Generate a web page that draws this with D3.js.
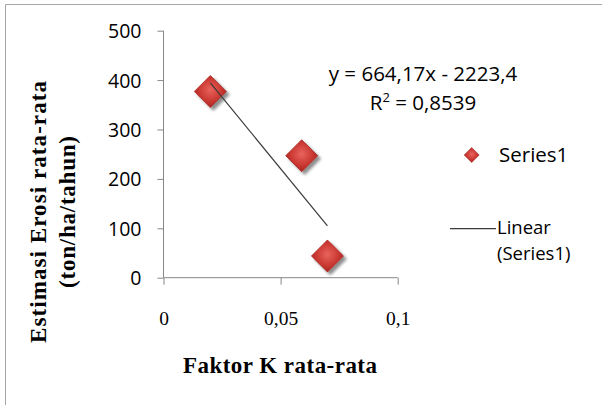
<!DOCTYPE html>
<html>
<head>
<meta charset="utf-8">
<script src="https://cdn.jsdelivr.net/npm/d3@7"></script>
<style>
  body { margin: 0; background: #fff; }
  .axisTitle { font-family: "Liberation Serif", serif; font-weight: bold; font-size: 23px; fill: #000; }
  .note { font-family: "Open Sans", sans-serif; font-size: 20.5px; fill: #000; }
  .legText { font-family: "Open Sans", sans-serif; font-size: 18.5px; fill: #000; }
</style>
</head>
<body>
<div id="scatter"></div>
<script>
// Chart data
var faktorK = [0.02, 0.059, 0.07];
var erosi = [377, 247, 44];
var xTicks = [0, 0.05, 0.1];
var yTicks = [0, 100, 200, 300, 400, 500];
var seriesName = "Series1";
var trendName = ["Linear", "(Series1)"];
var eqText = "y = 664,17x - 2223,4";
var r2Text = "0,8539";

var width = 602;
var height = 405;

var svg = d3.select("#scatter")
  .append("svg")
  .attr("width", width)
  .attr("height", height);

// Frame (top and left edges visible)
svg.append("path")
  .attr("d", "M5.5," + height + "V4.5H" + width)
  .attr("fill", "none")
  .attr("stroke", "#a6a6a6");

// Marker gradient + shadow
var defs = svg.append("defs");
var grad = defs.append("radialGradient")
  .attr("id", "redGrad")
  .attr("cx", "50%").attr("cy", "45%").attr("r", "60%");
grad.append("stop").attr("offset", "0%").attr("stop-color", "#e8645d");
grad.append("stop").attr("offset", "55%").attr("stop-color", "#cc3a34");
grad.append("stop").attr("offset", "100%").attr("stop-color", "#a3211c");

var shadow = defs.append("filter").attr("id", "shadow")
  .attr("x", "-30%").attr("y", "-30%").attr("width", "170%").attr("height", "170%");
shadow.append("feGaussianBlur").attr("in", "SourceAlpha").attr("stdDeviation", 1.6);
shadow.append("feOffset").attr("dx", 3).attr("dy", 3).attr("result", "off");
shadow.append("feComponentTransfer").append("feFuncA").attr("type", "linear").attr("slope", 0.45);
var merge = shadow.append("feMerge");
merge.append("feMergeNode");
merge.append("feMergeNode").attr("in", "SourceGraphic");

// Scales
var xScale = d3.scaleLinear().domain([0, 0.1]).range([163.5, 397.7]);
var yScale = d3.scaleLinear().domain([0, 500]).range([277.7, 30.7]);

var comma = d3.formatLocale({ decimal: ",", thousands: ".", grouping: [3], currency: ["", ""] });

var xAxis = d3.axisBottom(xScale)
  .tickValues(xTicks)
  .tickSize(7)
  .tickPadding(26)
  .tickFormat(function(d) { return comma.format("~g")(d); });

var yAxis = d3.axisLeft(yScale)
  .tickValues(yTicks)
  .tickSize(6)
  .tickPadding(16);

var gx = svg.append("g")
  .attr("transform", "translate(0," + yScale(0) + ")")
  .call(xAxis);

var gy = svg.append("g")
  .attr("transform", "translate(" + xScale(0) + ",0)")
  .call(yAxis);

[gx, gy].forEach(function(g) {
  g.select(".domain").attr("stroke", "#878787");
  g.selectAll(".tick line").attr("stroke", "#878787");
  g.selectAll(".tick text").attr("fill", "#000");
});
gx.attr("font-family", "'Liberation Serif', serif").attr("font-size", 19.5);
gy.attr("font-family", "'Open Sans', sans-serif").attr("font-size", 19.5);
gx.select(".domain").attr("d", "M" + xScale(0) + ",0H" + xScale(0.1));
gy.select(".domain").attr("d", "M0," + yScale(0) + "V" + yScale(500));
gy.selectAll(".tick text").attr("dy", "0.36em");

// Axis titles
svg.append("text")
  .attr("class", "axisTitle")
  .attr("x", 280).attr("y", 373)
  .attr("text-anchor", "middle")
  .attr("textLength", 194)
  .text("Faktor K rata-rata");

var yt = svg.append("g")
  .attr("transform", "translate(46,212) rotate(-90)");
yt.append("text")
  .attr("class", "axisTitle")
  .attr("text-anchor", "middle")
  .attr("textLength", 262)
  .text("Estimasi Erosi rata-rata");
yt.append("text")
  .attr("class", "axisTitle")
  .attr("y", 29)
  .attr("text-anchor", "middle")
  .attr("textLength", 152)
  .text("(ton/ha/tahun)");

// Trend line (least squares from data)
var mx = d3.mean(faktorK), my = d3.mean(erosi);
var sxy = d3.sum(faktorK, function(x, i) { return (x - mx) * (erosi[i] - my); });
var sxx = d3.sum(faktorK, function(x) { return (x - mx) * (x - mx); });
var slope = sxy / sxx, icpt = my - slope * mx;
var xExt = d3.extent(faktorK);

var pts = faktorK.map(function(x, i) { return { x: x, y: erosi[i] }; });

svg.selectAll("path.pt")
  .data(pts)
  .enter()
  .append("path")
  .attr("class", "pt")
  .attr("d", "M0,-16L16,0L0,16L-16,0Z")
  .attr("transform", function(d) {
    return "translate(" + xScale(d.x) + "," + yScale(d.y) + ")";
  })
  .attr("fill", "url(#redGrad)")
  .attr("stroke", "#a82a25")
  .attr("stroke-width", 0.8)
  .attr("filter", "url(#shadow)");

svg.append("line")
  .attr("x1", xScale(xExt[0])).attr("y1", yScale(icpt + slope * xExt[0]))
  .attr("x2", xScale(xExt[1])).attr("y2", yScale(icpt + slope * xExt[1]))
  .attr("stroke", "#3a3a3a")
  .attr("stroke-width", 1.2);

// Equation
svg.append("text").attr("class", "note")
  .attr("x", 423).attr("y", 81)
  .attr("text-anchor", "middle")
  .text(eqText);
var r2 = svg.append("text").attr("class", "note")
  .attr("x", 423).attr("y", 110)
  .attr("text-anchor", "middle");
r2.append("tspan").text("R");
r2.append("tspan").attr("font-size", "13px").attr("dy", -8).text("2");
r2.append("tspan").attr("dy", 8).text(" = " + r2Text);

// Legend
var leg = svg.append("g");
leg.append("path")
  .attr("d", "M0,-7.5L7.5,0L0,7.5L-7.5,0Z")
  .attr("transform", "translate(471.7,155)")
  .attr("fill", "url(#redGrad)")
  .attr("stroke", "#a82a25")
  .attr("stroke-width", 0.6);
leg.append("text").attr("class", "note")
  .attr("x", 499).attr("y", 162)
  .text(seriesName);
leg.append("line")
  .attr("x1", 450).attr("x2", 496)
  .attr("y1", 228.7).attr("y2", 228.7)
  .attr("stroke", "#3a3a3a")
  .attr("stroke-width", 1.2);
leg.append("text").attr("class", "legText")
  .attr("x", 497).attr("y", 233.5)
  .text(trendName[0]);
leg.append("text").attr("class", "legText")
  .attr("x", 497).attr("y", 259.5)
  .text(trendName[1]);
</script>
</body>
</html>
